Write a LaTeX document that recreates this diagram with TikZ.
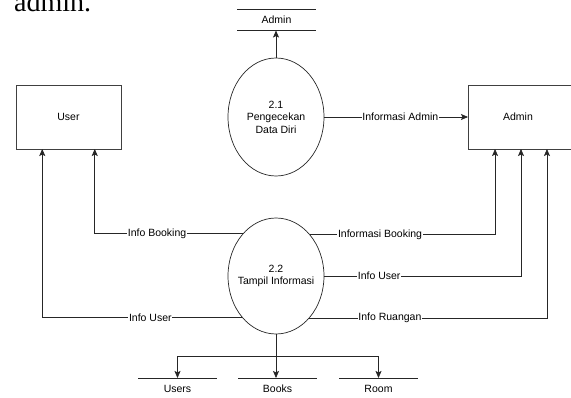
\documentclass[tikz,border=0pt]{standalone}
\usepackage{fontspec}
\setmainfont{Liberation Sans}
\newfontfamily\serifface{Liberation Serif}
\usetikzlibrary{arrows.meta,shapes.geometric,calc}
\tikzset{
  ln/.style={draw=black!85, line width=0.7pt},
  arr/.style={ln, -{Stealth[length=7pt,width=6pt,inset=1.5pt]}},
  proc/.style={ellipse, draw=black!85, line width=0.7pt, outer sep=0pt, inner sep=0pt, minimum width=96pt},
  ptext/.style={align=center, inner sep=0pt, font=\fontsize{10.5}{12.5}\selectfont},
  ent/.style={rectangle, draw=black!75, line width=0.8pt, outer sep=0pt, font=\fontsize{10.5}{12.5}\selectfont},
  ds/.style={rectangle, outer sep=0pt, minimum width=79pt, font=\fontsize{10.5}{12.5}\selectfont},
  lbl/.style={fill=white, inner sep=0.8pt, font=\fontsize{10.5}{12.5}\selectfont}
}
\begin{document}
\begin{tikzpicture}[x=1pt,y=-1pt]
\useasboundingbox (0,0) rectangle (571,398);
% heading fragment
\node[anchor=base west, inner sep=0pt, font=\serifface\fontsize{28}{30}\selectfont] (head) at (14,11.5) {admin.};
% data store top
\node[ds, minimum height=21.5pt] (adminDS) at (276.5,19.8) {Admin};
\draw[ln] (adminDS.north west) -- (adminDS.north east);
\draw[ln] (adminDS.south west) -- (adminDS.south east);
% processes
\node[proc, minimum height=118pt] (p21) at (276,117) {};
\node[ptext] (t21) at (p21.center) {2.1\\Pengecekan\\Data Diri};
\node[proc, minimum height=116pt] (p22) at (276,276) {};
\node[ptext] (t22) at (p22.center) {2.2\\Tampil Informasi};
% entities
\node[ent, minimum width=105pt, minimum height=64pt] (user) at (68.5,117) {User};
\node[ent, minimum width=106pt, minimum height=64pt, text width=86pt, align=center] (admin) at (521,117) {\hspace*{-6pt}Admin};
% bottom data stores
\node[ds, minimum height=22pt] (users) at (177.5,389) {Users};
\node[ds, minimum height=22pt] (books) at (277.5,389) {Books};
\node[ds, minimum height=22pt] (room) at (378.5,389) {Room};
\foreach \s in {users,books,room}{
  \draw[ln] (\s.north west) -- (\s.north east);
  \draw[ln] (\s.south west) -- (\s.south east);
}
% flows from 2.1
\draw[arr] (p21.north) -- (adminDS.south -| p21.north);
\draw[arr] (p21.east) -- node[lbl, pos=0.53] {Informasi Admin} (admin.west);
% flows from 2.2 to User
\draw[arr] (p22.128.2) -| node[lbl, pos=0.29] {Info Booking} ($(user.south west)!0.75!(user.south east)$);
\draw[arr] (p22.231.8) -| node[lbl, pos=0.23] {Info User} ($(user.south west)!0.25!(user.south east)$);
% flows from 2.2 to Admin
\draw[arr] (p22.51.8) -| node[lbl, pos=0.19] {Informasi Booking} ($(admin.south west)!0.255!(admin.south east)$);
\draw[arr] (p22.east) -| node[lbl, pos=0.14] {Info User} ($(admin.south west)!0.5!(admin.south east)$);
\draw[arr] (p22.308.2) -| node[lbl, pos=0.17] {Info Ruangan} ($(admin.south west)!0.745!(admin.south east)$);
% flows from 2.2 to stores
\coordinate (split) at (276,356);
\draw[ln] (p22.south) -- (split);
\draw[arr] (split) -- (books.north -| split);
\draw[arr] (split) -| (users.north);
\draw[arr] (split) -| (room.north);
\end{tikzpicture}
\end{document}
